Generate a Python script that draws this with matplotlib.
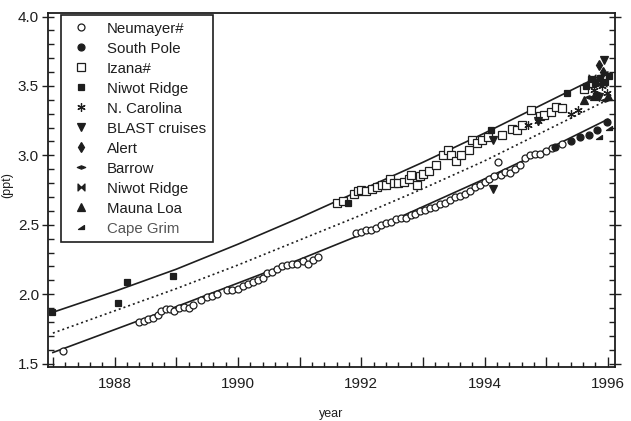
import numpy as np
import matplotlib
matplotlib.use("Agg")
import matplotlib.pyplot as plt
from matplotlib.path import Path
from matplotlib.ticker import MultipleLocator, FuncFormatter

plt.rcParams['font.family'] = ['Liberation Sans', 'DejaVu Sans']

# fitted lines (read at whole years)
line_years = [1987, 1988, 1989, 1990, 1991, 1992, 1993, 1994, 1995, 1996]
upper_line = [1.87, 2.02, 2.18, 2.36, 2.55, 2.75, 2.95, 3.16, 3.38, 3.60]
mid_line = [1.72, 1.88, 2.04, 2.21, 2.39, 2.57, 2.76, 2.96, 3.18, 3.40]
lower_line = [1.58, 1.745, 1.91, 2.08, 2.25, 2.43, 2.63, 2.83, 3.04, 3.26]

# station data
neumayer_t = [1987.16, 1988.40, 1988.47, 1988.55, 1988.62, 1988.70, 1988.76, 1988.83,
              1988.90, 1988.97, 1989.05, 1989.12, 1989.20, 1989.28, 1989.40, 1989.50,
              1989.58, 1989.66, 1989.82, 1989.90, 1990.00, 1990.08, 1990.16, 1990.24,
              1990.32, 1990.40, 1990.48, 1990.56, 1990.64, 1990.72, 1990.80, 1990.88,
              1990.96, 1991.05, 1991.14, 1991.22, 1991.30, 1991.92, 1992.00, 1992.08,
              1992.16, 1992.24, 1992.32, 1992.40, 1992.48, 1992.56, 1992.64, 1992.72,
              1992.80, 1992.88, 1992.96, 1993.04, 1993.12, 1993.20, 1993.28, 1993.36,
              1993.44, 1993.52, 1993.60, 1993.68, 1993.76, 1993.84, 1993.92, 1994.00,
              1994.08, 1994.16, 1994.22, 1994.26, 1994.34, 1994.42, 1994.50, 1994.58,
              1994.66, 1994.74, 1994.82, 1994.90, 1995.00, 1995.10, 1995.25]
neumayer_v = [1.59, 1.80, 1.81, 1.82, 1.83, 1.85, 1.88, 1.89,
              1.89, 1.88, 1.90, 1.91, 1.90, 1.92, 1.96, 1.98,
              1.99, 2.00, 2.03, 2.03, 2.04, 2.06, 2.07, 2.09,
              2.10, 2.12, 2.15, 2.16, 2.18, 2.20, 2.21, 2.22,
              2.22, 2.24, 2.22, 2.25, 2.27, 2.44, 2.45, 2.46,
              2.46, 2.48, 2.50, 2.51, 2.52, 2.54, 2.55, 2.55,
              2.57, 2.58, 2.60, 2.61, 2.62, 2.63, 2.65, 2.66,
              2.68, 2.70, 2.71, 2.72, 2.74, 2.77, 2.79, 2.81,
              2.83, 2.85, 2.95, 2.86, 2.88, 2.87, 2.90, 2.93,
              2.98, 3.00, 3.01, 3.01, 3.03, 3.05, 3.08]

southpole_t = [1995.15, 1995.41, 1995.55, 1995.70, 1995.83, 1995.99]
southpole_v = [3.06, 3.10, 3.13, 3.15, 3.18, 3.24]

izana_t = [1991.60, 1991.70, 1991.89, 1991.95, 1992.00, 1992.08, 1992.18, 1992.26,
           1992.33, 1992.40, 1992.46, 1992.53, 1992.59, 1992.70, 1992.78, 1992.81,
           1992.90, 1992.95, 1993.00, 1993.10, 1993.22, 1993.32, 1993.40, 1993.46,
           1993.54, 1993.62, 1993.75, 1993.80, 1993.88, 1993.96, 1994.05, 1994.29,
           1994.45, 1994.52, 1994.61, 1994.76, 1994.90, 1994.97, 1995.08, 1995.16,
           1995.26, 1995.62, 1995.75, 1995.90]
izana_v = [2.66, 2.67, 2.72, 2.74, 2.75, 2.74, 2.755, 2.77,
           2.79, 2.79, 2.83, 2.80, 2.80, 2.81, 2.83, 2.86,
           2.79, 2.85, 2.865, 2.89, 2.93, 3.00, 3.04, 3.00,
           2.96, 3.00, 3.04, 3.11, 3.09, 3.11, 3.13, 3.15,
           3.19, 3.18, 3.22, 3.33, 3.28, 3.29, 3.31, 3.345,
           3.34, 3.48, 3.52, 3.55]

niwot_t = [1986.99, 1988.05, 1988.21, 1988.94, 1991.78, 1994.11, 1995.34, 1995.65,
           1995.72, 1995.80, 1995.88, 1995.95, 1996.02]
niwot_v = [1.87, 1.94, 2.09, 2.13, 2.66, 3.18, 3.45, 3.50,
           3.55, 3.52, 3.56, 3.53, 3.57]

carolina_t = [1994.70, 1994.86, 1995.40, 1995.52, 1995.78, 1995.90, 1995.98]
carolina_v = [3.22, 3.25, 3.30, 3.33, 3.47, 3.50, 3.45]

blast_t = [1994.13, 1994.13, 1994.86, 1995.85, 1995.94]
blast_v = [2.755, 3.11, 3.25, 3.42, 3.69]

alert_t = [1995.86, 1995.92]
alert_v = [3.65, 3.60]

barrow_t = [1995.70, 1995.82, 1995.95]
barrow_v = [3.42, 3.45, 3.40]

niwot2_t = [1995.75, 1995.92]
niwot2_v = [3.56, 3.52]

maunaloa_t = [1995.62, 1995.78, 1996.00]
maunaloa_v = [3.40, 3.43, 3.43]

capegrim_t = [1995.85, 1996.02]
capegrim_v = [3.13, 3.20]

ink = '#1e1e1e'

barrow_mk = Path([(-1, 0), (0, 0.4), (1, 0), (0, -0.4), (-1, 0)],
                 [Path.MOVETO, Path.LINETO, Path.LINETO, Path.LINETO, Path.CLOSEPOLY])
bowtie_mk = Path([(-1, -1), (-1, 1), (0, 0), (-1, -1), (1, -1), (1, 1), (0, 0), (1, -1)],
                 [Path.MOVETO, Path.LINETO, Path.LINETO, Path.CLOSEPOLY,
                  Path.MOVETO, Path.LINETO, Path.LINETO, Path.CLOSEPOLY])
capegrim_mk = Path([(-1, -0.6), (1, -0.6), (1, 0.6), (-1, -0.6)],
                   [Path.MOVETO, Path.LINETO, Path.LINETO, Path.CLOSEPOLY])

fig = plt.figure(figsize=(6.31, 4.21), dpi=100)
ax = fig.add_axes([0.076, 0.128, 0.899, 0.841])

ax.plot(line_years, upper_line, color=ink, lw=1.2)
ax.plot(line_years, lower_line, color=ink, lw=1.2)
ax.plot(line_years, mid_line, color=ink, lw=1.2, ls=(0, (1.2, 1.8)))

ms = 5
common = dict(ls='none', mec=ink, mew=0.9)
ax.plot(neumayer_t, neumayer_v, marker='o', ms=ms, mfc='white', label='Neumayer#', **common)
ax.plot(southpole_t, southpole_v, marker='o', ms=ms, mfc=ink, label='South Pole', **common)
ax.plot(izana_t, izana_v, marker='s', ms=ms + 0.5, mfc='white', label='Izana#', **common)
ax.plot(niwot_t, niwot_v, marker='s', ms=ms, mfc=ink, label='Niwot Ridge', **common)
ax.plot(carolina_t, carolina_v, marker=(6, 2, 0), ms=ms + 1, mfc=ink, label='N. Carolina', **common)
ax.plot(blast_t, blast_v, marker='v', ms=ms + 0.5, mfc=ink, label='BLAST cruises', **common)
ax.plot(alert_t, alert_v, marker='d', ms=ms, mfc=ink, label='Alert', **common)
ax.plot(barrow_t, barrow_v, marker=barrow_mk, ms=ms + 1, mfc=ink, label='Barrow', **common)
ax.plot(niwot2_t, niwot2_v, marker=bowtie_mk, ms=ms, mfc=ink, label='Niwot Ridge', **common)
ax.plot(maunaloa_t, maunaloa_v, marker='^', ms=ms + 0.5, mfc=ink, label='Mauna Loa', **common)
ax.plot(capegrim_t, capegrim_v, marker=capegrim_mk, ms=ms, mfc=ink, label='Cape Grim', **common)

ax.set_xlim(1986.92, 1996.12)
ax.set_ylim(1.475, 4.025)

ax.xaxis.set_major_locator(MultipleLocator(1))
ax.xaxis.set_minor_locator(MultipleLocator(0.2))
ax.xaxis.set_major_formatter(FuncFormatter(lambda v, p: f"{int(round(v))}" if int(round(v)) % 2 == 0 else ""))
ax.yaxis.set_major_locator(MultipleLocator(0.5))
ax.yaxis.set_minor_locator(MultipleLocator(0.1))
ax.yaxis.set_major_formatter(FuncFormatter(lambda v, p: f"{v:.1f}"))

ax.tick_params(axis='x', which='major', direction='in', length=7, width=1, color=ink,
               labelsize=11, pad=7, labelcolor=ink)
ax.tick_params(axis='x', which='minor', direction='in', length=3.5, width=1, color=ink)
ax.tick_params(axis='y', which='major', direction='inout', length=9, width=1, color=ink,
               labelsize=11, pad=2, labelcolor=ink, right=True)
ax.tick_params(axis='y', which='minor', direction='in', length=4, width=1, color=ink, right=True)

for s in ax.spines.values():
    s.set_color(ink)
    s.set_linewidth(1.3)

ax.set_xlabel('year', fontsize=9, color=ink)
ax.xaxis.set_label_coords(0.50, -0.115)
ax.set_ylabel('(ppt)', fontsize=9, color=ink)
ax.yaxis.set_label_coords(-0.062, 0.515)

leg = ax.legend(loc='upper left', bbox_to_anchor=(0.023, 0.995), fontsize=10.8,
                frameon=True, fancybox=False, framealpha=1, edgecolor=ink,
                labelspacing=0.40, handletextpad=0.9, handlelength=1.7,
                borderpad=0.45, borderaxespad=0)
leg.get_frame().set_linewidth(1.2)
for t in leg.get_texts():
    t.set_color(ink)
leg.get_texts()[-1].set_color('#555555')

fig.savefig('out.png', dpi=100)
